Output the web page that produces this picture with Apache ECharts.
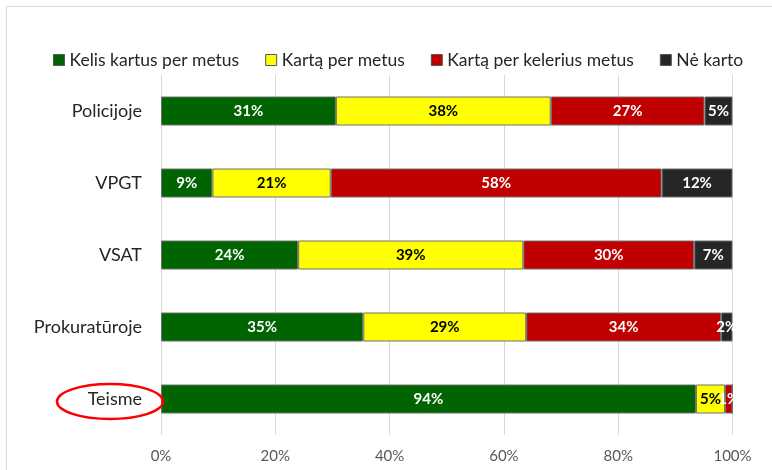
<!DOCTYPE html>
<html>
<head>
<meta charset="utf-8">
<script src="https://cdn.jsdelivr.net/npm/echarts@6/dist/echarts.min.js"></script>
<style>
  html, body { margin: 0; padding: 0; background: #fff; }
  #chart { width: 772px; height: 470px; }
</style>
</head>
<body>
<div id="chart"></div>
<script>
// kategorijos (iš viršaus į apačią)
var categories = ['Policijoje', 'VPGT', 'VSAT', 'Prokuratūroje', 'Teisme'];
var seriesNames = ['Kelis kartus per metus', 'Kartą per metus', 'Kartą per kelerius metus', 'Nė karto'];

// procentai, nuskaityti nuo paveikslo
var kelisKartus   = [30.6, 9.0, 24.0, 35.4, 93.6];
var kartaPerMetus = [37.6, 20.7, 39.4, 28.5, 5.1];
var kartaPerKelerius = [26.9, 57.9, 29.9, 34.1, 1.3];
var neKarto       = [4.9, 12.4, 6.7, 2.0, 0];

var xTicks = [0, 20, 40, 60, 80, 100];

var colors = ['#006400', '#ffff00', '#c00000', '#262626'];
var labelColors = ['#ffffff', '#000000', '#ffffff', '#ffffff'];
var seriesData = [kelisKartus, kartaPerMetus, kartaPerKelerius, neKarto];

var FONT = 'Lato';

var chart = echarts.init(document.getElementById('chart'), null, { renderer: 'canvas' });

var series = seriesData.map(function (vals, i) {
    return {
        name: seriesNames[i],
        type: 'bar',
        stack: 'total',
        barWidth: 29,
        data: vals,
        itemStyle: {
            color: colors[i],
            borderColor: '#6f6f6f',
            borderWidth: 1
        },
        label: {
            show: true,
            position: 'inside',
            color: labelColors[i],
            fontFamily: FONT,
            fontWeight: 'bold',
            fontSize: 15,
            formatter: function (p) {
                return p.value > 0 ? Math.round(p.value) + '%' : '';
            }
        },
        emphasis: { disabled: true }
    };
});

var option = {
    animation: false,
    backgroundColor: '#ffffff',
    textStyle: { fontFamily: FONT },
    legend: {
        data: seriesNames,
        left: 48,
        top: 46,
        itemWidth: 11,
        itemHeight: 11,
        itemGap: 26,
        icon: 'rect',
        textStyle: { fontSize: 17.5, color: '#262626', fontFamily: FONT },
        itemStyle: { borderColor: '#555', borderWidth: 1 }
    },
    grid: {
        left: 161,
        right: 39.5,
        top: 75,
        height: 360,
        containLabel: false
    },
    xAxis: {
        type: 'value',
        min: xTicks[0],
        max: xTicks[xTicks.length - 1],
        interval: 20,
        axisLine: { show: false },
        axisTick: { show: false },
        splitLine: { show: true, lineStyle: { color: '#d9d9d9', width: 1 } },
        axisLabel: {
            formatter: '{value}%',
            color: '#595959',
            fontSize: 15,
            fontFamily: FONT,
            margin: 14
        }
    },
    yAxis: {
        type: 'category',
        inverse: true,
        data: categories,
        axisLine: { show: false },
        axisTick: { show: false },
        axisLabel: {
            color: '#262626',
            fontSize: 18,
            fontFamily: FONT,
            margin: 19
        }
    },
    graphic: [
        {
            type: 'rect',
            shape: { x: 6.5, y: 6.5, width: 820, height: 520 },
            style: { fill: null, stroke: '#d9d9d9', lineWidth: 1 },
            silent: true
        },
        {
            type: 'ellipse',
            shape: { cx: 110, cy: 401.5, rx: 53, ry: 17.5 },
            style: { fill: null, stroke: '#ff0000', lineWidth: 2.5 },
            z: 100,
            silent: true
        }
    ],
    series: series
};

chart.setOption(option);
</script>
</body>
</html>
